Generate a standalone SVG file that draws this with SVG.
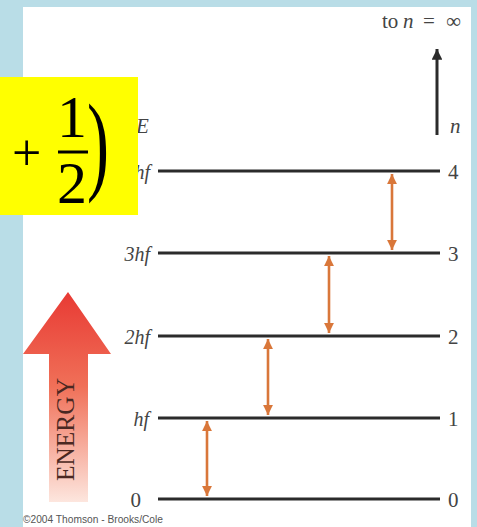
<svg xmlns="http://www.w3.org/2000/svg" width="477" height="527" viewBox="0 0 477 527">
<defs>
<style>
.lvl{stroke:#2b2b2b;stroke-width:3}
.lab{font-family:'Liberation Serif',serif;font-size:21px;fill:#444}
.lft{font-style:italic;text-anchor:end;font-size:20px}
.it{font-style:italic}
.dbl{stroke:#d9773a;stroke-width:2.6;marker-start:url(#oh);marker-end:url(#oh)}
.fm{font-family:'Liberation Serif',serif;fill:#000}
</style>
<marker id="oh" viewBox="0 0 10 10" refX="10" refY="5" markerWidth="4.4" markerHeight="3.8" orient="auto-start-reverse" markerUnits="strokeWidth">
<path d="M0,0 L10,5 L0,10 z" fill="#d9773a"/>
</marker>
<marker id="bh" viewBox="0 0 10 10" refX="10" refY="5" markerWidth="5" markerHeight="3.6" orient="auto" markerUnits="strokeWidth">
<path d="M0,0 L10,5 L0,10 z" fill="#2b2b2b"/>
</marker>
<linearGradient id="eg" x1="0" y1="0" x2="0" y2="1">
<stop offset="0" stop-color="#e83a34"/>
<stop offset="0.45" stop-color="#f07058"/>
<stop offset="1" stop-color="#fde6de"/>
</linearGradient>
</defs>
<rect x="0" y="0" width="477" height="527" fill="#b9dde7"/>
<rect x="23" y="7" width="448" height="520" fill="#ffffff"/>

<g id="energy-arrow">
<path d="M68,292 L111,354 L88,354 L88,502 L49,502 L49,354 L23,354 Z" fill="url(#eg)"/>
<text transform="translate(74,481) rotate(-90)" font-family="'Liberation Serif',serif" font-size="25" fill="#4a2822" textLength="103" lengthAdjust="spacingAndGlyphs">ENERGY</text>
</g>

<g id="connectors">
<line class="dbl" x1="207" y1="421" x2="207" y2="496"/>
<line class="dbl" x1="268" y1="339" x2="268" y2="415"/>
<line class="dbl" x1="329" y1="256" x2="329" y2="333"/>
<line class="dbl" x1="392" y1="174" x2="392" y2="250"/>
<line x1="437" y1="135" x2="437" y2="49" stroke="#2b2b2b" stroke-width="3" marker-end="url(#bh)"/>
</g>

<g id="level-4">
<line class="lvl" x1="158" y1="171" x2="440" y2="171"/>
<text class="lab lft" x="150" y="179">4hf</text>
<text class="lab" x="448" y="179">4</text>
</g>
<g id="level-3">
<line class="lvl" x1="158" y1="253" x2="440" y2="253"/>
<text class="lab lft" x="150" y="261">3hf</text>
<text class="lab" x="448" y="261">3</text>
</g>
<g id="level-2">
<line class="lvl" x1="158" y1="336" x2="440" y2="336"/>
<text class="lab lft" x="150" y="344">2hf</text>
<text class="lab" x="448" y="344">2</text>
</g>
<g id="level-1">
<line class="lvl" x1="158" y1="418" x2="440" y2="418"/>
<text class="lab lft" x="149" y="426">hf</text>
<text class="lab" x="448" y="426">1</text>
</g>
<g id="level-0">
<line class="lvl" x1="158" y1="499" x2="440" y2="499"/>
<text class="lab" x="141" y="507" text-anchor="end">0</text>
<text class="lab" x="448" y="507">0</text>
</g>

<g id="axis-labels">
<text class="lab it" x="136" y="133" font-size="18">E</text>
<text class="lab it" x="450" y="133" font-size="20">n</text>
<text class="lab" x="382" y="28" font-size="18">to</text>
<text class="lab it" x="403" y="28" font-size="19">n</text>
<text class="lab" x="423" y="28" font-size="20">=</text>
<text class="lab" x="446" y="28" font-size="20">∞</text>
</g>

<text x="23" y="523" font-family="'Liberation Sans',sans-serif" font-size="10" fill="#555" textLength="140" lengthAdjust="spacingAndGlyphs">©2004 Thomson - Brooks/Cole</text>

<g id="formula">
<rect x="0" y="77" width="138" height="138" fill="#ffff00"/>
<text class="fm" x="12" y="170" font-size="52">+</text>
<text class="fm" x="72" y="137" font-size="60" text-anchor="middle">1</text>
<line x1="58" y1="152" x2="88" y2="152" stroke="#000" stroke-width="3"/>
<text class="fm" x="72" y="203" font-size="60" text-anchor="middle">2</text>
<text class="fm" transform="translate(87,180) scale(0.6,1)" font-size="110">)</text>
</g>
</svg>
